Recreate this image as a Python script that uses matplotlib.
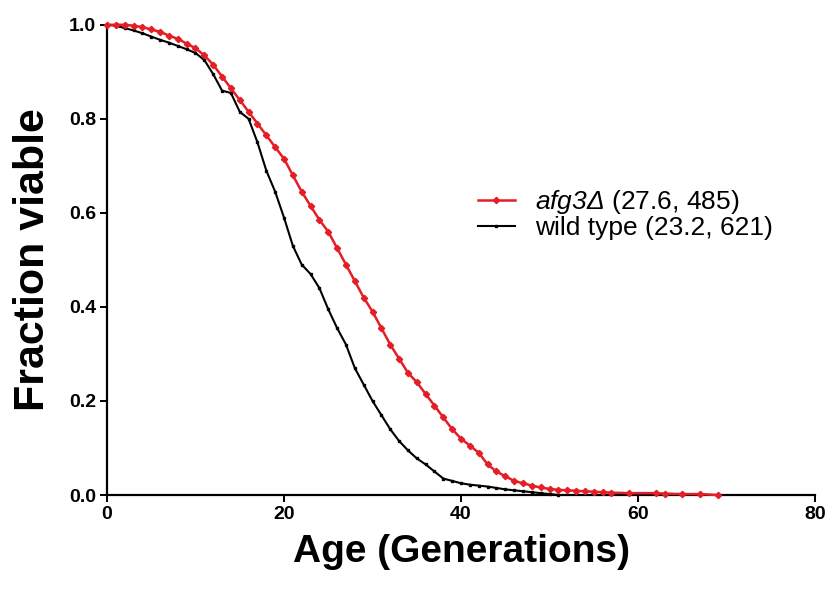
import numpy as np
import matplotlib.pyplot as plt

plt.rcParams['font.family'] = ['Liberation Sans', 'DejaVu Sans']
plt.rcParams['mathtext.fontset'] = 'custom'
plt.rcParams['mathtext.it'] = 'Liberation Sans:italic'
plt.rcParams['mathtext.rm'] = 'Liberation Sans:italic'

# afg3 delta survival (age in generations, fraction viable)
afg3_age = [0, 1, 2, 3, 4, 5, 6, 7, 8, 9, 10, 11, 12, 13, 14, 15, 16, 17, 18, 19,
            20, 21, 22, 23, 24, 25, 26, 27, 28, 29, 30, 31, 32, 33, 34, 35, 36, 37, 38, 39,
            40, 41, 42, 43, 44, 45, 46, 47, 48, 49, 50, 51, 52, 53, 54, 55, 56, 57, 59,
            62, 63, 65, 67, 69]
afg3_frac = [1.0, 1.0, 1.0, 0.998, 0.995, 0.99, 0.985, 0.977, 0.97, 0.96, 0.95, 0.935,
             0.915, 0.89, 0.865, 0.84, 0.815, 0.79, 0.765, 0.74, 0.715, 0.68, 0.645, 0.615,
             0.585, 0.56, 0.525, 0.49, 0.455, 0.42, 0.39, 0.355, 0.32, 0.29, 0.26, 0.24,
             0.215, 0.19, 0.165, 0.14, 0.12, 0.105, 0.09, 0.065, 0.05, 0.04, 0.03, 0.025,
             0.02, 0.016, 0.013, 0.011, 0.01, 0.009, 0.008, 0.007, 0.006, 0.005, 0.004,
             0.004, 0.003, 0.002, 0.002, 0.0]

# wild type survival
wt_age = list(range(0, 52))
wt_frac = [1.0, 0.998, 0.993, 0.988, 0.982, 0.975, 0.968, 0.962, 0.955, 0.948, 0.94,
           0.925, 0.895, 0.86, 0.855, 0.815, 0.8, 0.75, 0.69, 0.645, 0.59, 0.53, 0.49,
           0.47, 0.44, 0.395, 0.355, 0.32, 0.27, 0.235, 0.2, 0.17, 0.14, 0.115, 0.095,
           0.078, 0.065, 0.05, 0.035, 0.03, 0.025, 0.022, 0.02, 0.018, 0.015, 0.012, 0.01,
           0.008, 0.006, 0.004, 0.002, 0.0]

labels = [r'$afg3Δ$ (27.6, 485)', 'wild type (23.2, 621)']
red = '#e41e26'

fig = plt.figure(figsize=(8.32, 5.90), dpi=100)
ax = fig.add_axes([0.1286, 0.161, 0.8510, 0.797])

ax.plot(afg3_age, afg3_frac, color=red, lw=1.8,
        marker='D', ms=3.2, label=labels[0], clip_on=False, zorder=3)
ax.plot(wt_age, wt_frac, color='black', lw=1.5,
        marker='s', ms=2, label=labels[1], clip_on=False, zorder=2)

ax.set_xlim(0, 80)
ax.set_ylim(0, 1.0)
ax.set_xticks([0, 20, 40, 60, 80])
ax.set_yticks(np.arange(0, 1.01, 0.2))
ax.set_yticklabels(['0.0', '0.2', '0.4', '0.6', '0.8', '1.0'])
for s in ['top', 'right']:
    ax.spines[s].set_visible(False)
for s in ['left', 'bottom']:
    ax.spines[s].set_linewidth(1.6)
ax.tick_params(width=1.4, length=5, labelsize=14, pad=3)
for t in ax.get_xticklabels() + ax.get_yticklabels():
    t.set_fontweight('bold')

ax.set_xlabel('Age (Generations)', fontsize=28, fontweight='bold', labelpad=8)
ax.set_ylabel('Fraction viable', fontsize=31, fontweight='bold', labelpad=11)

ax.legend(loc='center left', bbox_to_anchor=(0.524, 0.598), frameon=False,
          fontsize=19, handlelength=1.4, handletextpad=0.75, labelspacing=0.0,
          borderpad=0, borderaxespad=0)

fig.savefig('out.png', dpi=100)
